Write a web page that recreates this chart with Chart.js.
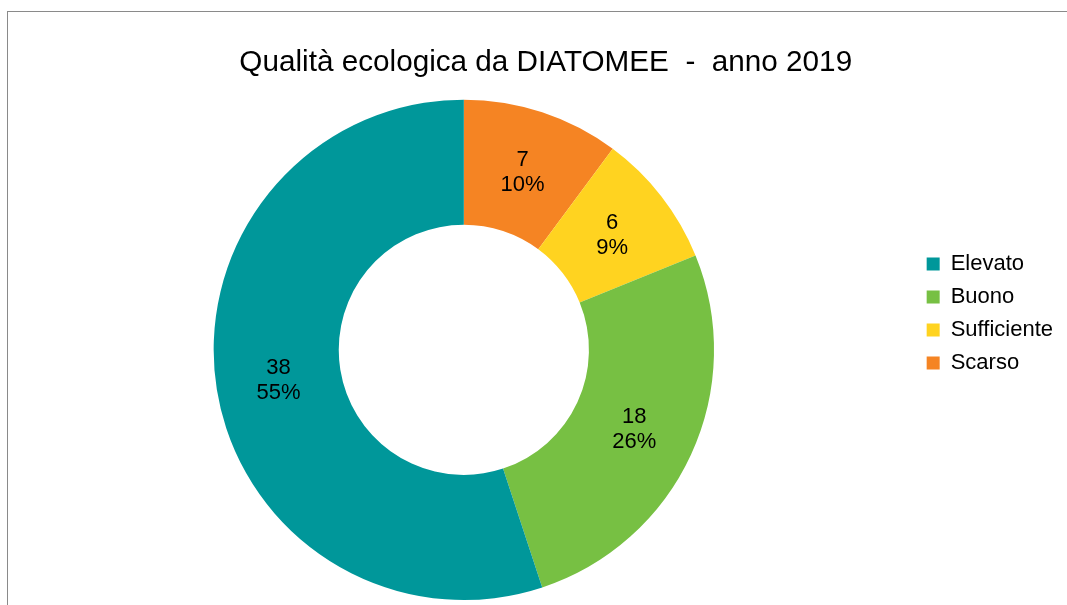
<!DOCTYPE html>
<html>
<head>
<meta charset="utf-8">
<script src="https://cdn.jsdelivr.net/npm/chart.js@4"></script>
<style>
  html, body { margin: 0; padding: 0; background: #fff; }
  #wrap { position: relative; width: 1067px; height: 605px; }
  #frame { position: absolute; left: 7px; top: 11px; right: -2px; bottom: -2px; border-left: 1px solid #8a8a8a; border-top: 1px solid #8a8a8a; }
</style>
</head>
<body>
<div id="wrap">
  <canvas id="donut" width="1067" height="605"></canvas>
  <div id="frame"></div>
</div>
<script>
// classi di qualita (ordine legenda)
var categories = ["Elevato", "Buono", "Sufficiente", "Scarso"];
var stations = [38, 18, 6, 7];
var percents = ["55%", "26%", "9%", "10%"];
var sliceColors = ["#00979a", "#77c043", "#ffd320", "#f58423"];

// LibreOffice disegna in senso antiorario: invertiamo per Chart.js
var drawLabels = categories.slice().reverse();
var drawValues = stations.slice().reverse();
var drawPercents = percents.slice().reverse();
var drawColors = sliceColors.slice().reverse();

var sliceLabels = {
  id: "sliceLabels",
  afterDatasetsDraw: function(chart) {
    var ctx = chart.ctx;
    var meta = chart.getDatasetMeta(0);
    ctx.save();
    ctx.fillStyle = "#000";
    ctx.font = "22px 'Liberation Sans', Arial, sans-serif";
    ctx.textAlign = "center";
    ctx.textBaseline = "middle";
    meta.data.forEach(function(arc, i) {
      var p = arc.tooltipPosition();
      ctx.fillText(String(drawValues[i]), p.x, p.y - 12);
      ctx.fillText(drawPercents[i], p.x, p.y + 13);
    });
    ctx.restore();
  }
};

new Chart("donut", {
  type: "doughnut",
  data: {
    labels: drawLabels,
    datasets: [{
      data: drawValues,
      backgroundColor: drawColors,
      borderWidth: 0
    }]
  },
  options: {
    responsive: false,
    animation: false,
    cutout: "50%",
    layout: { padding: { left: 12, right: 4, top: 0, bottom: 5 } },
    plugins: {
      title: {
        display: true,
        text: "\u00a0\u00a0Qualità ecologica da DIATOMEE  -  anno 2019",
        color: "#000",
        font: { family: "'Liberation Sans', Arial, sans-serif", size: 29.7, weight: "normal" },
        padding: { top: 45, bottom: 19 }
      },
      legend: {
        position: "right",
        reverse: true,
        title: { display: true, text: "", font: { size: 10 }, padding: { top: 15, bottom: 0 } },
        labels: {
          color: "#000",
          font: { family: "'Liberation Sans', Arial, sans-serif", size: 22 },
          boxWidth: 13,
          boxHeight: 13,
          padding: 11
        }
      },
      tooltip: { enabled: false }
    }
  },
  plugins: [sliceLabels]
});
</script>
</body>
</html>
